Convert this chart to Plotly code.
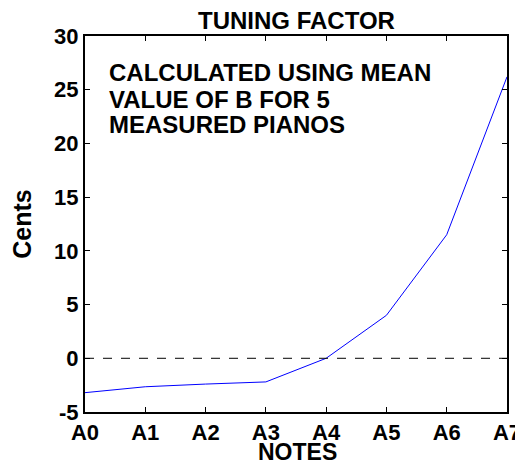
import plotly.graph_objects as go

notes = ["A0", "A1", "A2", "A3", "A4", "A5", "A6", "A7"]
note_pos = [0, 1, 2, 3, 4, 5, 6, 7]
cents = [-3.2, -2.65, -2.4, -2.2, 0.0, 4.0, 11.5, 26.2]
y_ticks = [-5, 0, 5, 10, 15, 20, 25, 30]
note_lines = ["CALCULATED USING MEAN", "VALUE OF B FOR 5", "MEASURED PIANOS"]

font = "Liberation Sans, Arial, sans-serif"

fig = go.Figure()
fig.add_trace(go.Scatter(x=note_pos, y=cents, mode="lines",
                         line=dict(color="#0000ff", width=1), showlegend=False))
fig.add_shape(type="line", xref="x", yref="y", x0=0, x1=7, y0=0, y1=0,
              line=dict(color="black", width=1, dash="dash"))

axis_common = dict(showline=True, linecolor="black", linewidth=2, mirror="ticks",
                   ticks="inside", ticklen=5, tickcolor="black", tickwidth=1,
                   showgrid=False, zeroline=False, automargin=False,
                   tickfont=dict(family=font, size=22, color="black"))

fig.update_xaxes(range=[0, 7], tickvals=note_pos, ticktext=["<b>%s</b>" % n for n in notes],
                 **axis_common)
fig.update_yaxes(range=[-5, 30], tickvals=y_ticks, ticktext=["<b>%d</b>" % v for v in y_ticks],
                 title=dict(text="<b>Cents</b>", font=dict(family=font, size=25, color="black"), standoff=17),
                 **axis_common)

fig.add_annotation(xref="paper", yref="paper", x=0.5, y=1.04, yanchor="middle", xanchor="center",
                   text="<b>TUNING FACTOR</b>", showarrow=False,
                   font=dict(family=font, size=24, color="black"))
fig.add_annotation(xref="paper", yref="paper", x=0.504, y=-0.106, yanchor="middle", xanchor="center",
                   text="<b>NOTES</b>", showarrow=False,
                   font=dict(family=font, size=23, color="black"))
for i, line in enumerate(note_lines):
    fig.add_annotation(xref="paper", yref="paper", x=0.052, y=[0.9016, 0.8324, 0.7633][i],
                       xanchor="left", yanchor="middle", align="left", showarrow=False,
                       text="<b>%s</b>" % line,
                       font=dict(family=font, size=24, color="black"))

# the page body has an 8px default margin, so the figure is sized to fit the window
fig.update_layout(width=515, height=455, margin=dict(l=77, r=16, t=28, b=51),
                  plot_bgcolor="white", paper_bgcolor="white")

fig.write_html("out.html")
